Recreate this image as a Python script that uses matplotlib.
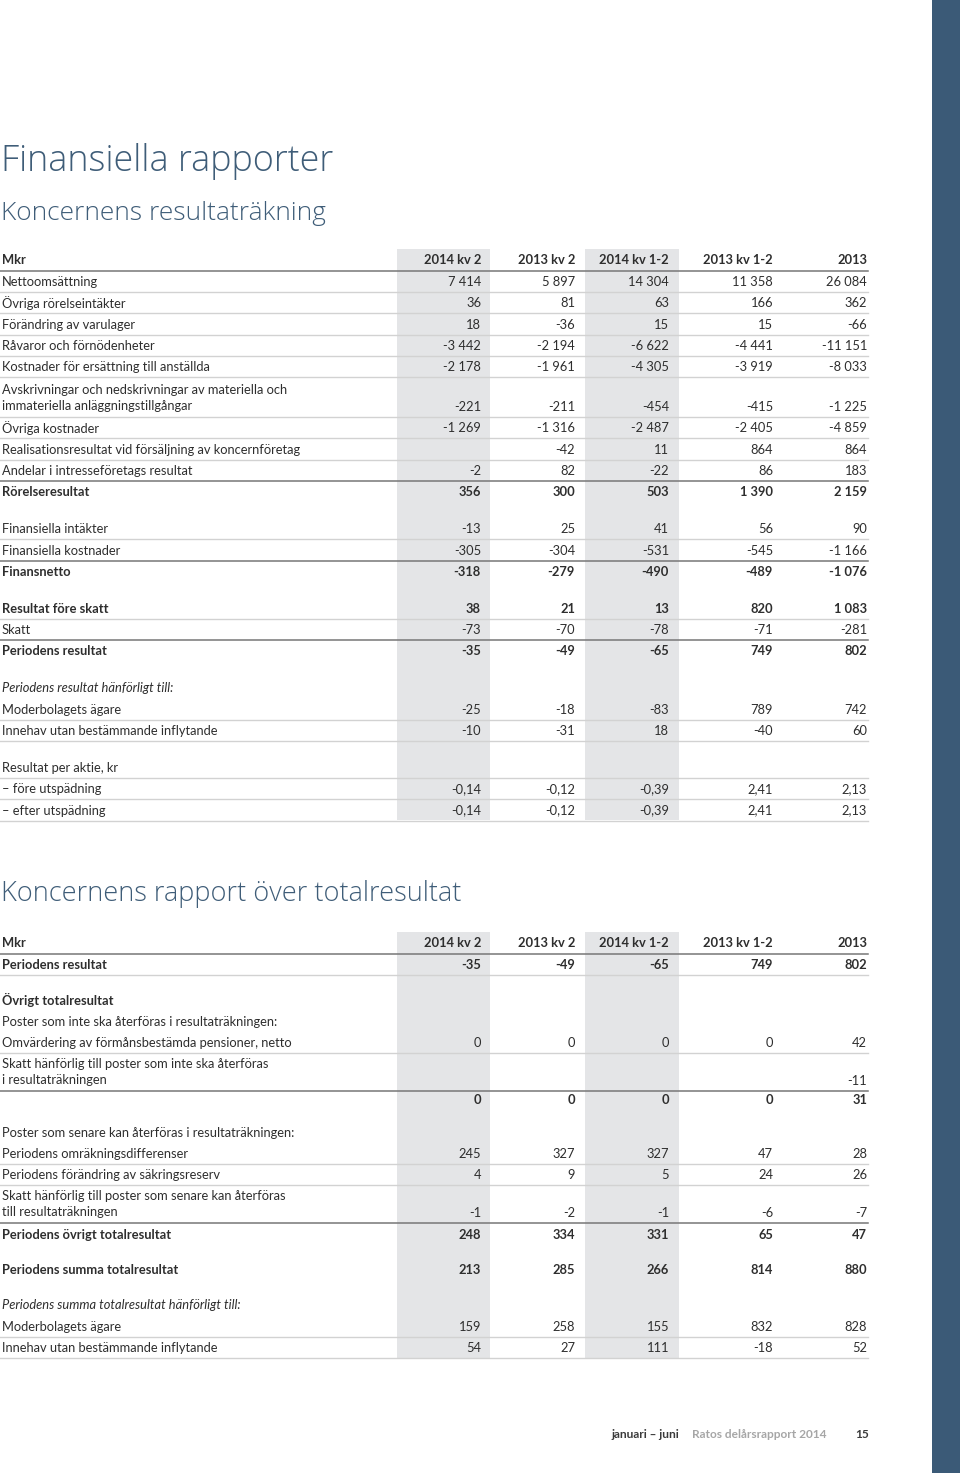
import matplotlib
matplotlib.use("Agg")
import matplotlib.pyplot as plt

plt.rcParams['font.family'] = ['Lato', 'DejaVu Sans']

# column headers
periods = ["2014 kv 2", "2013 kv 2", "2014 kv 1-2", "2013 kv 1-2", "2013"]

# --- Koncernens resultaträkning ---
t1_labels = ["Nettoomsättning", "Övriga rörelseintäkter", "Förändring av varulager",
             "Råvaror och förnödenheter", "Kostnader för ersättning till anställda",
             "Avskrivningar och nedskrivningar av materiella och\nimmateriella anläggningstillgångar",
             "Övriga kostnader", "Realisationsresultat vid försäljning av koncernföretag",
             "Andelar i intresseföretags resultat", "Rörelseresultat", "",
             "Finansiella intäkter", "Finansiella kostnader", "Finansnetto", "",
             "Resultat före skatt", "Skatt", "Periodens resultat", "",
             "Periodens resultat hänförligt till:", "Moderbolagets ägare",
             "Innehav utan bestämmande inflytande", "",
             "Resultat per aktie, kr", "– före utspädning", "– efter utspädning"]
t1_2014kv2 = [7414, 36, 18, -3442, -2178, -221, -1269, None, -2, 356, None,
              -13, -305, -318, None, 38, -73, -35, None, None, -25, -10, None, None, -0.14, -0.14]
t1_2013kv2 = [5897, 81, -36, -2194, -1961, -211, -1316, -42, 82, 300, None,
              25, -304, -279, None, 21, -70, -49, None, None, -18, -31, None, None, -0.12, -0.12]
t1_2014kv12 = [14304, 63, 15, -6622, -4305, -454, -2487, 11, -22, 503, None,
               41, -531, -490, None, 13, -78, -65, None, None, -83, 18, None, None, -0.39, -0.39]
t1_2013kv12 = [11358, 166, 15, -4441, -3919, -415, -2405, 864, 86, 1390, None,
               56, -545, -489, None, 820, -71, 749, None, None, 789, -40, None, None, 2.41, 2.41]
t1_2013 = [26084, 362, -66, -11151, -8033, -1225, -4859, 864, 183, 2159, None,
           90, -1166, -1076, None, 1083, -281, 802, None, None, 742, 60, None, None, 2.13, 2.13]
# row style: n normal, b bold, i italic, t tight bold, g gap, h short gap
# rule below: l light, d dark, '' none
t1_style = ["n", "n", "n", "n", "n", "n", "n", "n", "n", "b", "g",
            "n", "n", "b", "g", "b", "n", "b", "g", "i", "n", "n", "g", "n", "n", "n"]
t1_rule = ["l", "l", "l", "l", "l", "l", "l", "l", "d", "", "",
           "l", "d", "", "", "l", "d", "", "", "", "l", "l", "", "l", "l", "l"]

# --- Koncernens rapport över totalresultat ---
t2_labels = ["Periodens resultat", "", "Övrigt totalresultat",
             "Poster som inte ska återföras i resultaträkningen:",
             "Omvärdering av förmånsbestämda pensioner, netto",
             "Skatt hänförlig till poster som inte ska återföras\ni resultaträkningen",
             "", "", "Poster som senare kan återföras i resultaträkningen:",
             "Periodens omräkningsdifferenser", "Periodens förändring av säkringsreserv",
             "Skatt hänförlig till poster som senare kan återföras\ntill resultaträkningen",
             "Periodens övrigt totalresultat", "", "Periodens summa totalresultat", "",
             "Periodens summa totalresultat hänförligt till:", "Moderbolagets ägare",
             "Innehav utan bestämmande inflytande"]
t2_2014kv2 = [-35, None, None, None, 0, None, 0, None, None, 245, 4, -1, 248, None, 213, None, None, 159, 54]
t2_2013kv2 = [-49, None, None, None, 0, None, 0, None, None, 327, 9, -2, 334, None, 285, None, None, 258, 27]
t2_2014kv12 = [-65, None, None, None, 0, None, 0, None, None, 327, 5, -1, 331, None, 266, None, None, 155, 111]
t2_2013kv12 = [749, None, None, None, 0, None, 0, None, None, 47, 24, -6, 65, None, 814, None, None, 832, -18]
t2_2013 = [802, None, None, None, 42, -11, 31, None, None, 28, 26, -7, 47, None, 880, None, None, 828, 52]
t2_style = ["b", "g", "b", "n", "n", "n", "t", "h", "n", "n", "n", "n", "b", "g", "b", "g", "i", "n", "n"]
t2_rule = ["l", "", "", "", "l", "d", "", "", "", "l", "l", "d", "", "", "", "", "", "l", "l"]

TXT = "#2e2e2e"
BLUE = "#3f5d78"
SHADE = "#e4e5e7"
LIGHT = "#d2d2d2"
DARK = "#777777"
FS = 9.3
PITCH = 21.35
col_right = [481, 575, 669, 773, 867]
shade_cols = [(397, 490), (585, 679)]
LINE_END = 868


def fmt(v):
    if v is None:
        return ""
    if isinstance(v, float):
        return f"{v:.2f}".replace(".", ",")
    return f"{v:,}".replace(",", " ")


fig = plt.figure(figsize=(9.6, 14.73), dpi=100)
ax = fig.add_axes([0, 0, 1, 1])
ax.set_xlim(0, 960)
ax.set_ylim(1473, 0)
ax.axis("off")

# blue side band
ax.add_patch(plt.Rectangle((932, 0), 28, 1473, color="#3b5a77", lw=0))

title_font = ['Open Sans', 'Lato', 'DejaVu Sans']
ax.text(1, 162, "Finansiella rapporter", fontsize=25.8, color=BLUE, va="center",
        family=title_font, fontweight="light")
ax.text(1, 214, "Koncernens resultaträkning", fontsize=18.9, color=BLUE, va="center",
        family=title_font, fontweight="light")
ax.text(1, 894, "Koncernens rapport över totalresultat", fontsize=19.5, color=BLUE,
        va="center", family=title_font, fontweight="light")


def draw_table(y_head, y_bottom, labels, cols, style, rule, gap, two_adv):
    for x0, x1 in shade_cols:
        ax.add_patch(plt.Rectangle((x0, y_head - 11), x1 - x0, y_bottom - y_head + 11,
                                   color=SHADE, lw=0, zorder=0))
    ax.text(2, y_head, "Mkr", fontsize=FS, fontweight="bold", color=TXT, va="center")
    for p, xr in zip(periods, col_right):
        ax.text(xr, y_head, p, fontsize=FS, fontweight="bold", color=TXT,
                va="center", ha="right")
    ax.plot([0, LINE_END], [y_head + 10.5, y_head + 10.5], color=DARK, lw=1.1)
    y = y_head + 0.7
    for i, lab in enumerate(labels):
        st = style[i]
        if st == "g":
            y += gap
            continue
        if st == "h":
            y += 11.6
            continue
        two = "\n" in lab
        if two:
            y += two_adv
        elif st == "t":
            y += 18.5
        else:
            y += PITCH
        weight = "bold" if st == "b" or st == "t" else "normal"
        fstyle = "italic" if st == "i" else "normal"
        if two:
            l1, l2 = lab.split("\n")
            ax.text(2, y - 17, l1, fontsize=FS, color=TXT, va="center")
            ax.text(2, y - 1, l2, fontsize=FS, color=TXT, va="center")
        else:
            ax.text(2, y, lab, fontsize=FS, color=TXT, va="center",
                    fontweight=weight, fontstyle=fstyle)
        for c, xr in zip(cols, col_right):
            ax.text(xr, y, fmt(c[i]), fontsize=FS, color=TXT, va="center",
                    ha="right", fontweight=weight)
        if rule[i]:
            ax.plot([0, LINE_END], [y + 10, y + 10],
                    color=LIGHT if rule[i] == "l" else DARK,
                    lw=1.0 if rule[i] == "l" else 1.1)


draw_table(260, 820, t1_labels,
           [t1_2014kv2, t1_2013kv2, t1_2014kv12, t1_2013kv12, t1_2013],
           t1_style, t1_rule, 15.5, 39.5)
draw_table(943, 1358, t2_labels,
           [t2_2014kv2, t2_2013kv2, t2_2014kv12, t2_2013kv12, t2_2013],
           t2_style, t2_rule, 14.0, 38.0)

# footer
ax.text(679, 1434, "januari – juni", fontsize=8.6, fontweight="bold", color="#3a3a3a",
        ha="right", va="center")
ax.text(692, 1434, "Ratos delårsrapport 2014", fontsize=8.6, fontweight="bold",
        color="#a6a6a6", ha="left", va="center")
ax.text(869, 1434, "15", fontsize=8.6, fontweight="bold", color="#3a3a3a",
        ha="right", va="center")

fig.savefig("out.png", dpi=100)
